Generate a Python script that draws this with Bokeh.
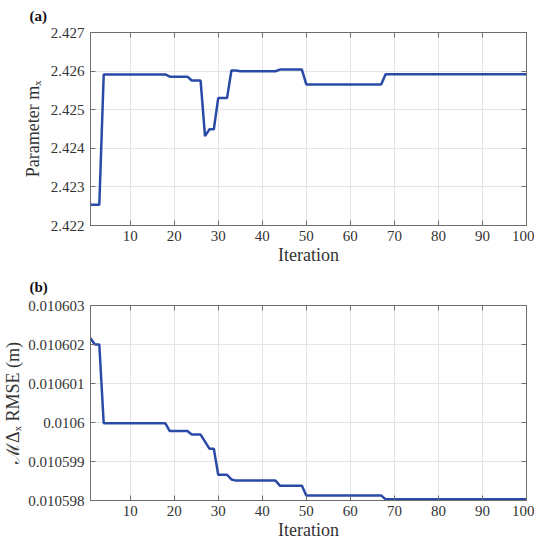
from bokeh.plotting import figure
from bokeh.layouts import column
from bokeh.models import (Range1d, FixedTicker, LinearAxis, CustomJSTickFormatter,
                          CustomLabelingPolicy)
from bokeh.embed import file_html
from bokeh.resources import INLINE

iterations = list(range(1, 101))

param_mx = [
    2.422538, 2.422538, 2.422538,
    2.425914, 2.425914, 2.425914, 2.425914, 2.425914, 2.425914, 2.425914, 2.425914,
    2.425914, 2.425914, 2.425914, 2.425914, 2.425914, 2.425914, 2.425914,
    2.425856, 2.425856, 2.425856, 2.425856, 2.425856,
    2.425755, 2.425755, 2.425755,
    2.424316,
    2.424492, 2.424492,
    2.425300, 2.425300, 2.425300,
    2.426015, 2.426015,
    2.425997, 2.425997, 2.425997, 2.425997, 2.425997, 2.425997, 2.425997, 2.425997, 2.425997,
    2.426040, 2.426040, 2.426040, 2.426040, 2.426040, 2.426040,
    2.425654, 2.425654, 2.425654, 2.425654, 2.425654, 2.425654, 2.425654, 2.425654, 2.425654,
    2.425654, 2.425654, 2.425654, 2.425654, 2.425654, 2.425654, 2.425654, 2.425654, 2.425654,
    2.425920, 2.425920, 2.425920, 2.425920, 2.425920, 2.425920, 2.425920, 2.425920, 2.425920,
    2.425920, 2.425920, 2.425920, 2.425920, 2.425920, 2.425920, 2.425920, 2.425920, 2.425920,
    2.425920, 2.425920, 2.425920, 2.425920, 2.425920, 2.425920, 2.425920, 2.425920, 2.425920,
    2.425920, 2.425920, 2.425920, 2.425920, 2.425920, 2.425920,
]

rmse = [
    0.01060216,
    0.01060200, 0.01060200,
    0.01059998, 0.01059998, 0.01059998, 0.01059998, 0.01059998, 0.01059998, 0.01059998, 0.01059998,
    0.01059998, 0.01059998, 0.01059998, 0.01059998, 0.01059998, 0.01059998, 0.01059998,
    0.01059978, 0.01059978, 0.01059978, 0.01059978, 0.01059978,
    0.01059969, 0.01059969, 0.01059969,
    0.01059951,
    0.01059933, 0.01059933,
    0.01059866, 0.01059866, 0.01059866,
    0.01059854,
    0.01059851, 0.01059851, 0.01059851, 0.01059851, 0.01059851, 0.01059851, 0.01059851, 0.01059851,
    0.01059851, 0.01059851,
    0.01059838, 0.01059838, 0.01059838, 0.01059838, 0.01059838, 0.01059838,
    0.01059813, 0.01059813, 0.01059813, 0.01059813, 0.01059813, 0.01059813, 0.01059813, 0.01059813,
    0.01059813, 0.01059813, 0.01059813, 0.01059813, 0.01059813, 0.01059813, 0.01059813, 0.01059813,
    0.01059813, 0.01059813,
    0.01059803, 0.01059803, 0.01059803, 0.01059803, 0.01059803, 0.01059803, 0.01059803, 0.01059803,
    0.01059803, 0.01059803, 0.01059803, 0.01059803, 0.01059803, 0.01059803, 0.01059803, 0.01059803,
    0.01059803, 0.01059803, 0.01059803, 0.01059803, 0.01059803, 0.01059803, 0.01059803, 0.01059803,
    0.01059803, 0.01059803, 0.01059803, 0.01059803, 0.01059803, 0.01059803, 0.01059803, 0.01059803,
    0.01059803,
]

x_ticks = [10, 20, 30, 40, 50, 60, 70, 80, 90, 100]
mx_ticks = [2.422, 2.423, 2.424, 2.425, 2.426, 2.427]
rmse_ticks = [0.010598, 0.010599, 0.010600, 0.010601, 0.010602, 0.010603]

FONT = "Liberation Serif"
LINE_COLOR = "#2a4aa8"
AXIS_COLOR = "#6e6e6e"
TEXT_COLOR = "#333333"
GRID_COLOR = "#e4e4e4"

HIDE_LABELS = """
const all = [...indices];
for (const i of all) indices.unset(i);
return indices;
"""


def style_axis(ax, show_labels=True):
    ax.axis_line_color = AXIS_COLOR
    ax.major_tick_line_color = AXIS_COLOR
    ax.major_tick_in = 5
    ax.major_tick_out = 0
    ax.minor_tick_line_color = None
    ax.major_label_text_font = FONT
    ax.major_label_text_color = TEXT_COLOR
    ax.axis_label_text_font = FONT
    ax.axis_label_text_font_style = "normal"
    ax.axis_label_text_color = TEXT_COLOR
    ax.axis_label_text_font_size = "18px"
    ax.major_label_text_font_size = "15px"
    if not show_labels:
        ax.major_label_policy = CustomLabelingPolicy(code=HIDE_LABELS)
        ax.major_label_standoff = 0
        ax.major_label_text_font_size = "1px"


def make_panel(title, y, yr, yticks, ylabel, digits, height, border_top, border_bottom,
               title_standoff, ylabel_standoff):
    p = figure(width=534, height=height, output_backend="svg", toolbar_location=None,
               x_range=Range1d(1, 100), y_range=Range1d(*yr),
               min_border_left=84, min_border_right=8,
               min_border_top=border_top, min_border_bottom=border_bottom)
    p.title.text = title
    p.title.text_font = FONT
    p.title.text_font_style = "bold"
    p.title.text_font_size = "15px"
    p.title.text_color = "#111111"
    p.title.align = "left"
    p.title.offset = -61
    p.title.standoff = title_standoff
    p.outline_line_color = AXIS_COLOR
    p.background_fill_color = "white"
    p.border_fill_color = "white"

    fmt = CustomJSTickFormatter(code="""
        var s = tick.toFixed(%d);
        if (s.indexOf('.') >= 0) { s = s.replace(/0+$/, ''); s = s.replace(/\\.$/, ''); }
        return s;
    """ % digits)

    p.xaxis.ticker = FixedTicker(ticks=x_ticks)
    p.yaxis.ticker = FixedTicker(ticks=yticks)
    p.yaxis.formatter = fmt
    p.xaxis.axis_label = "Iteration"
    p.yaxis.axis_label = ylabel
    for ax in p.xaxis:
        style_axis(ax)
        ax.major_label_standoff = 5
        ax.axis_label_standoff = 1
    for ax in p.yaxis:
        style_axis(ax)
        ax.major_label_standoff = 6
        ax.axis_label_standoff = ylabel_standoff

    top_ax = LinearAxis(ticker=FixedTicker(ticks=x_ticks))
    style_axis(top_ax, show_labels=False)
    p.add_layout(top_ax, "above")
    right_ax = LinearAxis(ticker=FixedTicker(ticks=yticks))
    style_axis(right_ax, show_labels=False)
    p.add_layout(right_ax, "right")

    p.xgrid.ticker = FixedTicker(ticks=x_ticks)
    p.ygrid.ticker = FixedTicker(ticks=yticks)
    p.grid.grid_line_color = GRID_COLOR
    p.grid.grid_line_width = 1

    p.line(iterations, y, line_color=LINE_COLOR, line_width=2.5)
    return p


p1 = make_panel("(a)", param_mx, (2.422, 2.427), mx_ticks, "Parameter mₓ", 3,
                269, 27, 44, 10, 5)
p2 = make_panel("(b)", rmse, (0.010598, 0.010603), rmse_ticks, "ℳΔₓ RMSE (m)", 6,
                273, 33, 42, 14, 2)

layout = column(p1, p2)
open("out.html", "w").write(file_html(layout, INLINE))
